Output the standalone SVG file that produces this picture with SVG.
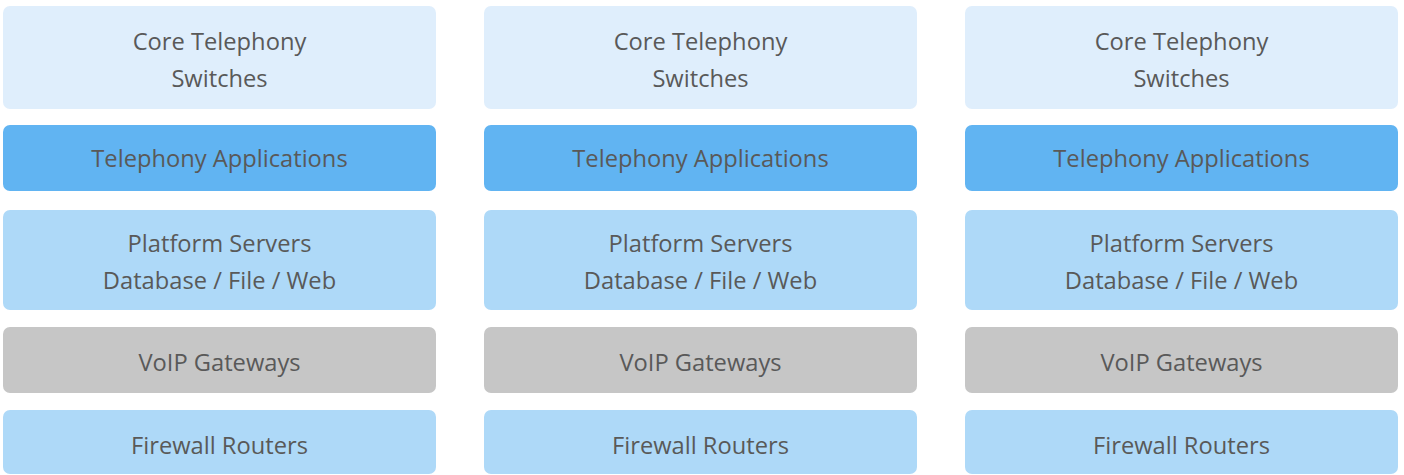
<svg xmlns="http://www.w3.org/2000/svg" width="1404" height="475" viewBox="0 0 1404 475">
  <style>
    .box { rx: 7px; ry: 7px; }
    .core { fill: #DFEEFC; }
    .apps { fill: #61B4F2; }
    .plat { fill: #AED9F8; }
    .voip { fill: #C6C6C6; }
    .fw { fill: #AED9F8; }
    text { font-family: "Open Sans", "Liberation Sans", sans-serif; font-size: 23.7px; fill: #595959; text-anchor: middle; }
  </style>
  <defs>
    <!-- One stack of five layers; each column reuses it -->
    <g id="stack">
      <g id="layer-core">
        <rect class="box core" x="3" y="6" width="433" height="103"/>
        <text x="219.5" y="50">Core Telephony</text>
        <text x="219.5" y="87">Switches</text>
      </g>
      <g id="layer-apps">
        <rect class="box apps" x="3" y="125" width="433" height="66"/>
        <text x="219.5" y="167">Telephony Applications</text>
      </g>
      <g id="layer-platform">
        <rect class="box plat" x="3" y="210" width="433" height="100"/>
        <text x="219.5" y="252">Platform Servers</text>
        <text x="219.5" y="289">Database / File / Web</text>
      </g>
      <g id="layer-voip">
        <rect class="box voip" x="3" y="327" width="433" height="66"/>
        <text x="219.5" y="371">VoIP Gateways</text>
      </g>
      <g id="layer-firewall">
        <rect class="box fw" x="3" y="410" width="433" height="64"/>
        <text x="219.5" y="454">Firewall Routers</text>
      </g>
    </g>
  </defs>
  <g id="column-1"><use href="#stack"/></g>
  <g id="column-2"><use href="#stack" x="481"/></g>
  <g id="column-3"><use href="#stack" x="962"/></g>
  <g id="connectors"></g>
</svg>
